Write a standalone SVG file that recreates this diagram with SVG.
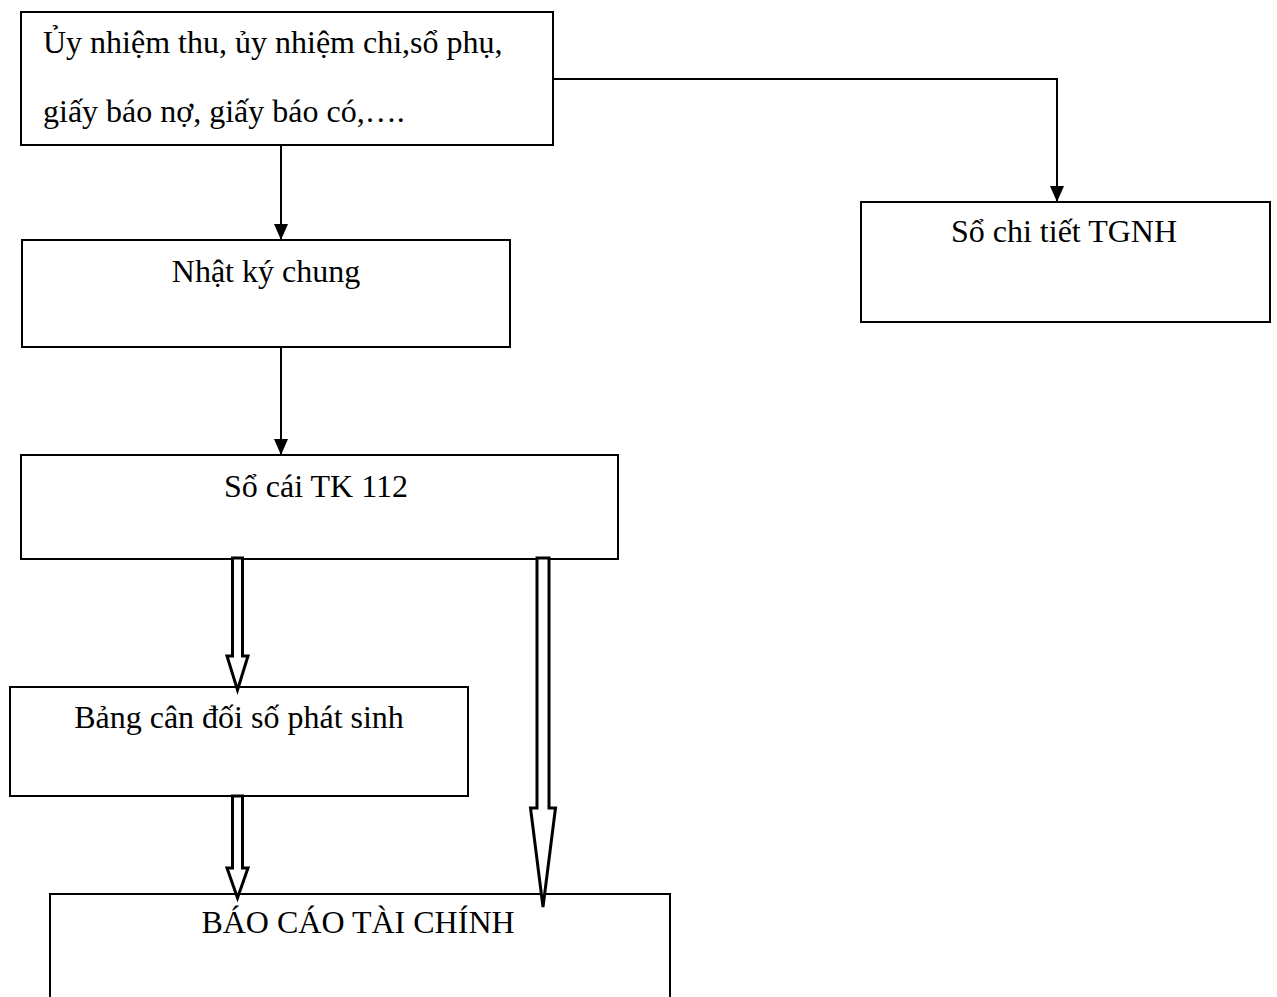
<svg xmlns="http://www.w3.org/2000/svg" width="1277" height="997" viewBox="0 0 1277 997">
  <style>
    .box { fill: #ffffff; stroke: #000000; stroke-width: 2; }
    .lbl { font-family: "Liberation Serif", "Times New Roman", serif; font-size: 32px; fill: #000000; }
    .mid { text-anchor: middle; }
    .line { fill: none; stroke: #000000; stroke-width: 2; }
    .hollow { fill: #ffffff; stroke: #000000; stroke-width: 3; stroke-linejoin: miter; }
  </style>
  <defs>
    <!-- solid triangular head, drawn along +x so orient="auto" turns it with the line -->
    <marker id="head" markerWidth="16" markerHeight="14" refX="16" refY="7" orient="auto" markerUnits="userSpaceOnUse" viewBox="0 0 16 14">
      <path d="M0,0 L16,7 L0,14 Z" fill="#000000"/>
    </marker>
  </defs>
  <rect width="1277" height="997" fill="#ffffff"/>

  <!-- source documents -->
  <g id="chung-tu">
    <rect class="box" x="21" y="12" width="532" height="133"/>
    <text class="lbl" x="43" y="53">Ủy nhiệm thu, ủy nhiệm chi,sổ phụ,</text>
    <text class="lbl" x="43" y="122">giấy báo nợ, giấy báo có,….</text>
  </g>

  <!-- general journal -->
  <g id="nhat-ky-chung">
    <rect class="box" x="22" y="240" width="488" height="107"/>
    <text class="lbl mid" x="266" y="282">Nhật ký chung</text>
  </g>

  <!-- detail ledger for bank deposits -->
  <g id="so-chi-tiet">
    <rect class="box" x="861" y="202" width="409" height="120"/>
    <text class="lbl mid" x="1064" y="242">Sổ chi tiết TGNH</text>
  </g>

  <!-- general ledger account 112 -->
  <g id="so-cai">
    <rect class="box" x="21" y="455" width="597" height="104"/>
    <text class="lbl mid" x="316" y="497">Sổ cái TK 112</text>
  </g>

  <!-- trial balance -->
  <g id="bang-can-doi">
    <rect class="box" x="10" y="687" width="458" height="109"/>
    <text class="lbl mid" x="239" y="728">Bảng cân đối số phát sinh</text>
  </g>

  <!-- financial statements -->
  <g id="bao-cao">
    <rect class="box" x="50" y="894" width="620" height="120"/>
    <text class="lbl mid" x="358" y="933">BÁO CÁO TÀI CHÍNH</text>
  </g>

  <!-- connectors -->
  <g id="connectors">
    <path class="line" d="M281,145 V240" marker-end="url(#head)"/>
    <path class="line" d="M553,79 H1057 V202" marker-end="url(#head)"/>
    <path class="line" d="M281,347 V455" marker-end="url(#head)"/>
    <polygon class="hollow" points="232.5,558 242.5,558 242.5,656 248,656 237.5,690 227,656 232.5,656"/>
    <polygon class="hollow" points="232.5,796 242.5,796 242.5,868 248,868 237.5,898 227,868 232.5,868"/>
    <polygon class="hollow" points="537,558 549,558 549,808 555.5,808 543,907 530.5,808 537,808"/>
  </g>
</svg>
